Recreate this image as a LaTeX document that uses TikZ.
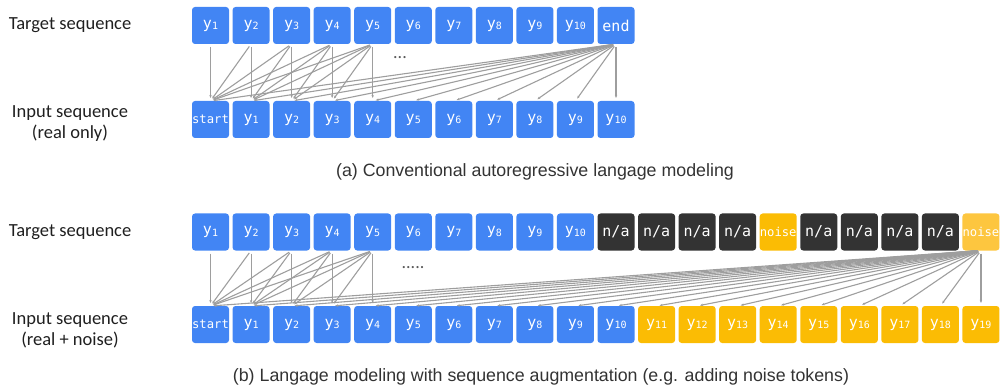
\documentclass[tikz,border=0pt]{standalone}
\usepackage{fontspec}
\setmainfont{Carlito}
\newfontfamily\capfont{Liberation Sans}
\newfontfamily\tokfont{DejaVu Sans Mono}
\usetikzlibrary{arrows.meta, positioning}
\definecolor{tokblue}{HTML}{4285F4}
\definecolor{tokdark}{HTML}{333333}
\definecolor{tokyellow}{HTML}{FBBC04}
\definecolor{noisehl}{HTML}{FDC63F}
\definecolor{linkgray}{HTML}{9E9E9E}
\definecolor{txtgray}{HTML}{333333}
\newcommand{\ytok}[1]{y\raisebox{-1.6pt}{\fontsize{10}{10}\selectfont #1}}
\newcommand{\natok}{n/a}

\begin{document}
\begin{tikzpicture}[
    x=1pt, y=-1pt,
    >={Stealth[length=3pt, width=2.4pt]},
    node distance=3.55pt,
    tokbox/.style={
        rounded corners=3pt, inner sep=0pt, outer sep=0pt,
        minimum width=37pt, minimum height=37pt,
        text=white, font=\tokfont\fontsize{15}{15}\selectfont,
    },
    bluetok/.style={tokbox, fill=tokblue},
    darktok/.style={tokbox, fill=tokdark},
    yellowtok/.style={tokbox, fill=tokyellow},
    smalltok/.style={font=\tokfont\fontsize{12.2}{12}\selectfont},
    seqlabel/.style={font=\fontsize{18.5}{21}\selectfont, text=black!88, align=center},
    caption/.style={font=\capfont\fontsize{17.8}{20}\selectfont, text=txtgray},
    link/.style={->, color=linkgray, line width=1.1pt, shorten <=3pt, shorten >=3pt},
    gap/.style={font=\fontsize{18}{18}\selectfont, text=black!65},
]
\useasboundingbox (0,0) rectangle (1000,387);

% (a) Target row
\node[bluetok] (a-tgt-1) at (210.5,25.5) {\ytok{1}};
\foreach \i [remember=\i as \j (initially 1)] in {2,...,10}
    \node[bluetok, right=of a-tgt-\j] (a-tgt-\i) {\ytok{\i}};
\node[bluetok, right=of a-tgt-10] (a-tgt-11) {end};

% (a) Input row
\node[bluetok, smalltok] (a-in-1) at (210.5,119.5) {start};
\foreach \i [remember=\i as \j (initially 1), evaluate=\i as \k using int(\i-1)] in {2,...,11}
    \node[bluetok, right=of a-in-\j] (a-in-\i) {\ytok{\k}};

% (a) Links
\foreach \t in {1,...,5}
    \foreach \s in {1,...,\t}
        \draw[link] (a-tgt-\t.south) -- (a-in-\s.north);
\foreach \s in {1,...,11}
    \draw[link] (a-tgt-11.south) -- (a-in-\s.north);
\node[gap] (a-dots) at (400,58) {...};

% (a) Labels
\node[seqlabel] (a-tgt-lab) at (70,25.5) {Target sequence};
\node[seqlabel] (a-in-lab) at (70,124) {Input sequence\\(real only)};
\node[caption] (a-cap) at (535,172) {(a) Conventional autoregressive langage modeling};

% (b) Target row
\node[bluetok] (b-tgt-1) at (210.5,232) {\ytok{1}};
\foreach \i [remember=\i as \j (initially 1)] in {2,...,10}
    \node[bluetok, right=of b-tgt-\j] (b-tgt-\i) {\ytok{\i}};
\foreach \i [remember=\i as \j (initially 10)] in {11,...,14}
    \node[darktok, right=of b-tgt-\j] (b-tgt-\i) {\natok};
\node[yellowtok, smalltok, right=of b-tgt-14] (b-tgt-15) {noise};
\foreach \i [remember=\i as \j (initially 15)] in {16,...,19}
    \node[darktok, right=of b-tgt-\j] (b-tgt-\i) {\natok};
\node[tokbox, fill=noisehl, smalltok, right=of b-tgt-19] (b-tgt-20) {noise};

% (b) Input row
\node[bluetok, smalltok] (b-in-1) at (210.5,324.5) {start};
\foreach \i [remember=\i as \j (initially 1), evaluate=\i as \k using int(\i-1)] in {2,...,11}
    \node[bluetok, right=of b-in-\j] (b-in-\i) {\ytok{\k}};
\foreach \i [remember=\i as \j (initially 11), evaluate=\i as \k using int(\i-1)] in {12,...,20}
    \node[yellowtok, right=of b-in-\j] (b-in-\i) {\ytok{\k}};

% (b) Links
\foreach \t in {1,...,5}
    \foreach \s in {1,...,\t}
        \draw[link] (b-tgt-\t.south) -- (b-in-\s.north);
\foreach \s in {1,...,20}
    \draw[link] (b-tgt-20.south) -- (b-in-\s.north);
\node[gap] (b-dots) at (413,268) {.....};

% (b) Labels
\node[seqlabel] (b-tgt-lab) at (70,232) {Target sequence};
\node[seqlabel] (b-in-lab) at (70,330) {Input sequence\\(real + noise)};
\node[caption] (b-cap) at (541,377) {(b) Langage modeling with sequence augmentation (e.g. adding noise tokens)};

\end{tikzpicture}
\end{document}
